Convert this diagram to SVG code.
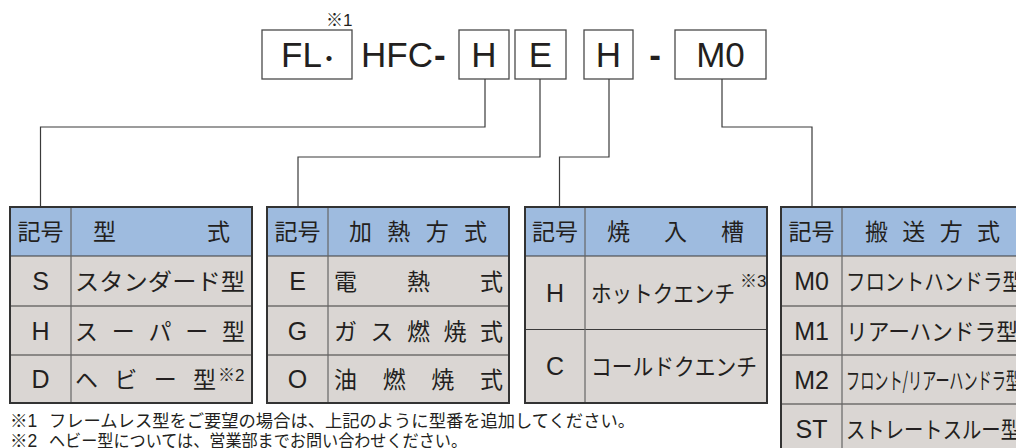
<svg xmlns="http://www.w3.org/2000/svg" width="1016" height="448" viewBox="0 0 1016 448">
<style>
.bg{fill:#ffffff}
.box{fill:#ffffff;stroke:#4a4a4a;stroke-width:1.3}
.big{font-family:"Liberation Sans",Arial,sans-serif;font-size:35px;fill:#231f20}
.dot{font-family:"Noto Sans CJK JP",sans-serif;font-size:24px;fill:#231f20}
.sup{font-family:"Liberation Sans","Noto Sans CJK JP",sans-serif;font-size:17px;fill:#231f20}
.conn{fill:none;stroke:#3a3a3a;stroke-width:1.2}
.hd{fill:#9ebbdf}
.bd{fill:#dad6d3}
.outer{fill:none;stroke:#333333;stroke-width:2}
.inner{stroke:#3a3a3a;stroke-width:1.2}
.vdiv{stroke:#666666;stroke-width:1.2}
.jp{font-family:"Noto Sans CJK JP",sans-serif;font-size:23px;fill:#231f20}
.lt{font-family:"Liberation Sans",Arial,sans-serif;font-size:25px;fill:#231f20;text-anchor:middle}
.ctr{text-anchor:middle}
.fn{font-family:"Noto Sans CJK JP",sans-serif;font-size:17.5px;fill:#231f20}
.fnl{font-family:"Liberation Sans","Noto Sans CJK JP",sans-serif;font-size:17.5px;fill:#231f20}
</style>
<rect class="bg" x="0" y="0" width="1016" height="448"/>

<g id="model-code">
  <rect class="box" x="262" y="30" width="90" height="49"/>
  <text class="big" x="281" y="67">FL</text>
  <text class="dot" x="317" y="67">・</text>
  <text class="sup" x="326" y="26">※1</text>
  <text class="big" x="361" y="67">HFC<tspan font-weight="bold" dx="1">-</tspan></text>
  <rect class="box" x="459" y="30" width="50" height="49"/>
  <text class="big ctr" x="484" y="67">H</text>
  <rect class="box" x="515" y="30" width="51" height="49"/>
  <text class="big ctr" x="540.5" y="67">E</text>
  <rect class="box" x="584" y="30" width="49" height="49"/>
  <text class="big ctr" x="608.5" y="67">H</text>
  <text class="big ctr" x="655" y="67" font-weight="bold">-</text>
  <rect class="box" x="675" y="30" width="91" height="49"/>
  <text class="big ctr" x="720.5" y="67">M0</text>
</g>

<g id="connectors">
  <polyline class="conn" points="485,79 485,127 40.5,127 40.5,207"/>
  <polyline class="conn" points="540,79 540,157 298,157 298,207"/>
  <polyline class="conn" points="609,79 609,157 559.5,157 559.5,207"/>
  <polyline class="conn" points="722,79 722,127 812,127 812,207"/>
</g>

<g id="table-type">
  <rect class="hd" x="10" y="207" width="242" height="49"/>
  <rect class="bd" x="10" y="256" width="242" height="147"/>
  <line class="inner" x1="10" y1="256" x2="252" y2="256"/>
  <line class="inner" x1="10" y1="306" x2="252" y2="306"/>
  <line class="inner" x1="10" y1="355" x2="252" y2="355"/>
  <line class="vdiv" x1="71" y1="207" x2="71" y2="403"/>
  <rect class="outer" x="10" y="207" width="242" height="196"/>
  <text class="jp ctr" x="40.5" y="240">記号</text>
  <text class="jp" x="93" y="240">型</text>
  <text class="jp" x="207" y="240">式</text>
  <text class="lt" x="40.5" y="290">S</text>
  <text class="jp" x="75" y="290" font-size="24" textLength="170" lengthAdjust="spacingAndGlyphs">スタンダード型</text>
  <text class="lt" x="40.5" y="339.5">H</text>
  <text class="jp" x="75" y="339.5" font-size="24" textLength="170" lengthAdjust="spacing">スーパー型</text>
  <text class="lt" x="40.5" y="388">D</text>
  <text class="jp" x="75" y="388" font-size="24" textLength="141" lengthAdjust="spacing">ヘビー型</text>
  <text class="sup" x="218" y="381">※2</text>
</g>

<g id="table-heating">
  <rect class="hd" x="267" y="207" width="242" height="49"/>
  <rect class="bd" x="267" y="256" width="242" height="147"/>
  <line class="inner" x1="267" y1="256" x2="509" y2="256"/>
  <line class="inner" x1="267" y1="306" x2="509" y2="306"/>
  <line class="inner" x1="267" y1="355" x2="509" y2="355"/>
  <line class="vdiv" x1="328" y1="207" x2="328" y2="403"/>
  <rect class="outer" x="267" y="207" width="242" height="196"/>
  <text class="jp ctr" x="297.5" y="240">記号</text>
  <text class="jp" x="349" y="240" textLength="138" lengthAdjust="spacing">加熱方式</text>
  <text class="lt" x="297.5" y="290">E</text>
  <text class="jp" x="334" y="290" font-size="24" textLength="169" lengthAdjust="spacing">電熱式</text>
  <text class="lt" x="297.5" y="339.5">G</text>
  <text class="jp" x="334" y="339.5" font-size="24" textLength="169" lengthAdjust="spacing">ガス燃焼式</text>
  <text class="lt" x="297.5" y="388">O</text>
  <text class="jp" x="334" y="388" font-size="24" textLength="169" lengthAdjust="spacing">油燃焼式</text>
</g>

<g id="table-tank">
  <rect class="hd" x="525" y="207" width="242" height="49"/>
  <rect class="bd" x="525" y="256" width="242" height="147"/>
  <line class="inner" x1="525" y1="256" x2="767" y2="256"/>
  <line class="inner" x1="525" y1="329.5" x2="767" y2="329.5"/>
  <line class="vdiv" x1="585" y1="207" x2="585" y2="403"/>
  <rect class="outer" x="525" y="207" width="242" height="196"/>
  <text class="jp ctr" x="555" y="240">記号</text>
  <text class="jp" x="607" y="240" textLength="137" lengthAdjust="spacing">焼入槽</text>
  <text class="lt" x="555" y="302">H</text>
  <text class="jp" x="591" y="302" textLength="144" lengthAdjust="spacingAndGlyphs">ホットクエンチ</text>
  <text class="sup" x="740" y="287" font-size="15">※3</text>
  <text class="lt" x="555" y="375">C</text>
  <text class="jp" x="591" y="375" textLength="166" lengthAdjust="spacingAndGlyphs">コールドクエンチ</text>
</g>

<g id="table-transfer">
  <rect class="hd" x="781" y="207" width="250" height="49"/>
  <rect class="bd" x="781" y="256" width="250" height="197"/>
  <line class="inner" x1="781" y1="256" x2="1031" y2="256"/>
  <line class="inner" x1="781" y1="306" x2="1031" y2="306"/>
  <line class="inner" x1="781" y1="355" x2="1031" y2="355"/>
  <line class="inner" x1="781" y1="404" x2="1031" y2="404"/>
  <line class="vdiv" x1="842" y1="207" x2="842" y2="453"/>
  <rect class="outer" x="781" y="207" width="250" height="246"/>
  <text class="jp ctr" x="811.5" y="240">記号</text>
  <text class="jp" x="865" y="240" textLength="135" lengthAdjust="spacing">搬送方式</text>
  <text class="lt" x="811.5" y="290">M0</text>
  <text class="jp" x="846" y="290" textLength="176" lengthAdjust="spacingAndGlyphs">フロントハンドラ型</text>
  <text class="lt" x="811.5" y="339.5">M1</text>
  <text class="jp" x="846" y="339.5" textLength="172" lengthAdjust="spacingAndGlyphs">リアーハンドラ型</text>
  <text class="lt" x="811.5" y="388.5">M2</text>
  <text class="jp" x="846" y="388.5" font-size="20" textLength="174" lengthAdjust="spacingAndGlyphs">フロント/リアーハンドラ型</text>
  <text class="lt" x="811.5" y="437.5">ST</text>
  <text class="jp" x="846" y="437.5" textLength="174" lengthAdjust="spacingAndGlyphs">ストレートスルー型</text>
</g>

<g id="footnotes">
  <text class="fnl" x="10" y="427">※1</text>
  <text class="fn" x="49" y="427" textLength="586" lengthAdjust="spacingAndGlyphs">フレームレス型をご要望の場合は、上記のように型番を追加してください。</text>
  <text class="fnl" x="10" y="447">※2</text>
  <text class="fn" x="49" y="447" textLength="418" lengthAdjust="spacingAndGlyphs">ヘビー型については、営業部までお問い合わせください。</text>
</g>
</svg>
